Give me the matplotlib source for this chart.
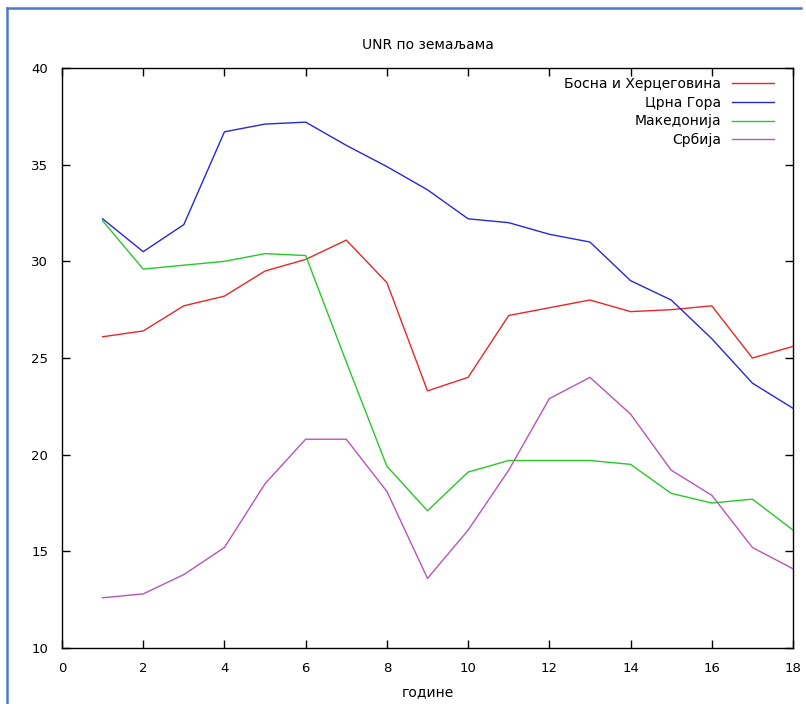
import matplotlib
matplotlib.use("Agg")
import matplotlib.pyplot as plt
from matplotlib.lines import Line2D

# Подаци (очитани са слике)
godine = list(range(1, 19))
bih = [26.1, 26.4, 27.7, 28.2, 29.5, 30.1, 31.1, 28.9, 23.3, 24.0,
       27.2, 27.6, 28.0, 27.4, 27.5, 27.7, 25.0, 25.6]
cg = [32.2, 30.5, 31.9, 36.7, 37.1, 37.2, 36.0, 34.9, 33.7, 32.2,
      32.0, 31.4, 31.0, 29.0, 28.0, 26.0, 23.7, 22.4]
mk = [32.1, 29.6, 29.8, 30.0, 30.4, 30.3, 24.8, 19.4, 17.1, 19.1,
      19.7, 19.7, 19.7, 19.5, 18.0, 17.5, 17.7, 16.1]
srb = [12.6, 12.8, 13.8, 15.2, 18.5, 20.8, 20.8, 18.1, 13.6, 16.1,
       19.2, 22.9, 24.0, 22.1, 19.2, 17.9, 15.2, 14.1]

serije = [
    ("Босна и Херцеговина", bih, "#e82828"),
    ("Црна Гора", cg, "#2828d8"),
    ("Македонија", mk, "#28c828"),
    ("Србија", srb, "#b855b8"),
]

x_ticks = list(range(0, 19, 2))
y_ticks = list(range(10, 41, 5))

plt.rcParams['font.family'] = ['DejaVu Sans']

fig = plt.figure(figsize=(8.06, 7.04), dpi=100)
ax = fig.add_axes([0.0769, 0.0795, 0.9070, 0.8239])

for naziv, vrednosti, boja in serije:
    ax.plot(godine, vrednosti, color=boja, lw=1.0, label=naziv)

ax.set_xlim(0, 18)
ax.set_ylim(10, 40)
ax.set_xticks(x_ticks)
ax.set_yticks(y_ticks)
ax.tick_params(direction='in', length=6, width=1, top=True, right=True,
               labelsize=9.5, pad=10)
for s in ax.spines.values():
    s.set_linewidth(1.0)

ax.set_title("UNR по земаљама", fontsize=10, pad=14)
ax.set_xlabel("године", fontsize=10, labelpad=7)

leg = ax.legend(loc='upper right', bbox_to_anchor=(0.993, 1.009),
                frameon=False, markerfirst=False,
                fontsize=10, handlelength=3.0, handletextpad=0.8,
                labelspacing=0.35, borderaxespad=0.6)

# плави оквир снимка екрана (лево и горе)
fig.add_artist(Line2D([0.009, 0.009], [0.0, 0.989], color='#4a7bd0', lw=1.8,
                      transform=fig.transFigure))
fig.add_artist(Line2D([0.009, 0.994], [0.989, 0.989], color='#4a7bd0', lw=1.8,
                      transform=fig.transFigure))

fig.savefig("out.png", dpi=100)
